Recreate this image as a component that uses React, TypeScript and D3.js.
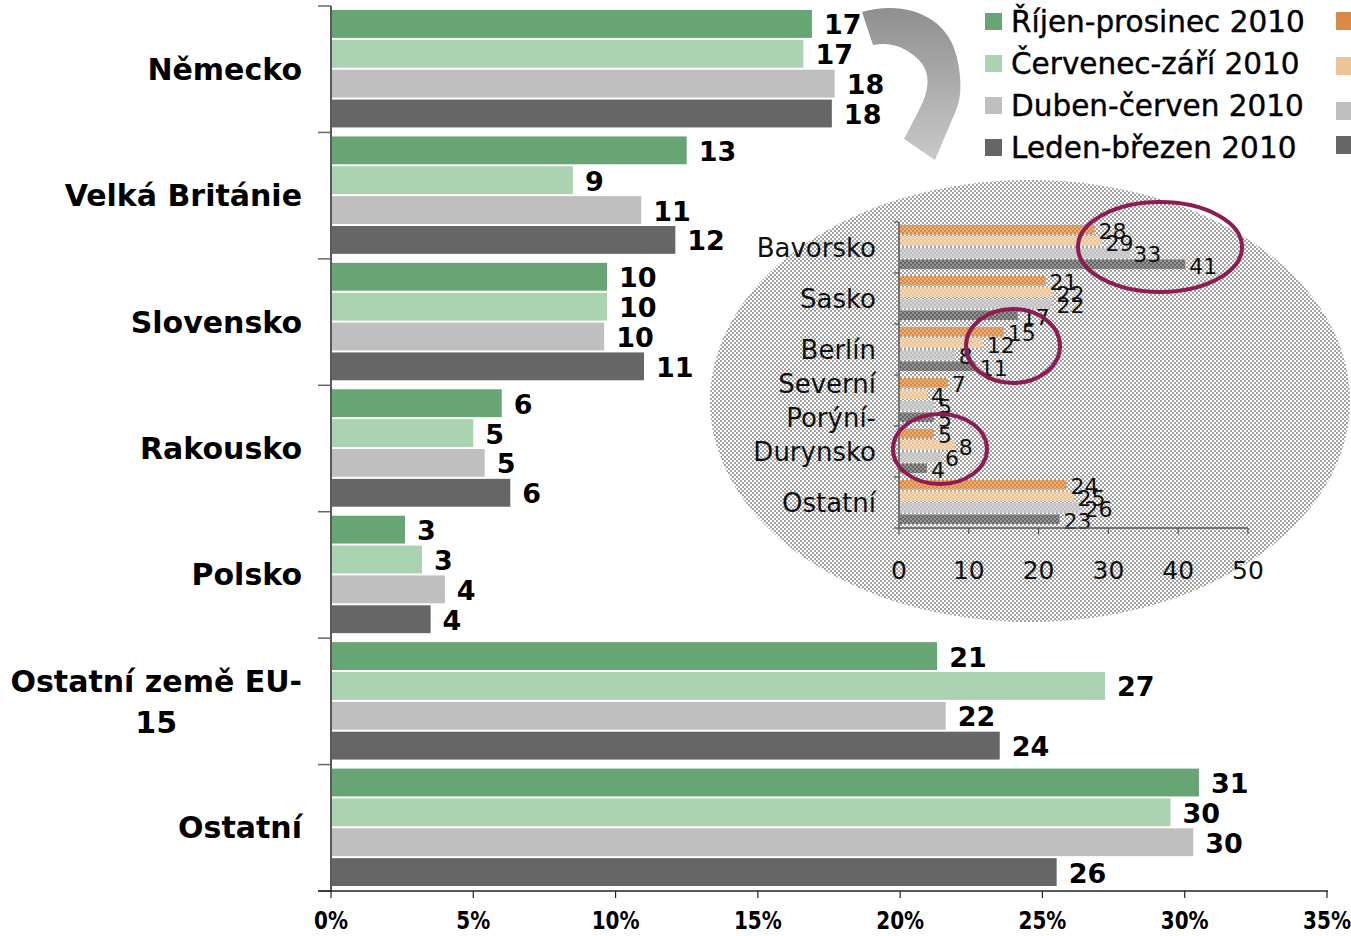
import React, { useEffect, useRef } from "react";
import * as d3 from "d3";

// main chart data (share in %)
const categories = ["Německo", "Velká Británie", "Slovensko", "Rakousko", "Polsko", "Ostatní země EU-15", "Ostatní"];
const categoryLines = [["Německo"], ["Velká Británie"], ["Slovensko"], ["Rakousko"], ["Polsko"], ["Ostatní země EU-", "15"], ["Ostatní"]];
const seriesNames = ["Říjen-prosinec 2010", "Červenec-září 2010", "Duben-červen 2010", "Leden-březen 2010"];
const octDec = [16.9, 12.5, 9.7, 6.0, 2.6, 21.3, 30.5];
const julSep = [16.6, 8.5, 9.7, 5.0, 3.2, 27.2, 29.5];
const aprJun = [17.7, 10.9, 9.6, 5.4, 4.0, 21.6, 30.3];
const janMar = [17.6, 12.1, 11.0, 6.3, 3.5, 23.5, 25.5];
const xTicks = [0, 5, 10, 15, 20, 25, 30, 35];

// inset (German regions)
const insetCategories = ["Bavorsko", "Sasko", "Berlín", "Severní Porýní-", "Durynsko", "Ostatní"];
const insetLines = [["Bavorsko"], ["Sasko"], ["Berlín"], ["Severní", "Porýní-"], ["Durynsko"], ["Ostatní"]];
const insetOctDec = [28, 21, 15, 7, 5, 24];
const insetJulSep = [29, 22, 12, 4, 8, 25];
const insetAprJun = [33, 22, 8, 5, 6, 26];
const insetJanMar = [41, 17, 11, 5, 4, 23];
const insetTicks = [0, 10, 20, 30, 40, 50];

const mainColors = ["#67a575", "#abd2b1", "#bfbfbf", "#666666"];
const insetColors = ["#d98b45", "#ecc597", "#bfbfbf", "#666666"];

export default function App() {
  const ref = useRef<SVGSVGElement>(null);

  useEffect(() => {
    const svg = d3.select(ref.current);
    svg.selectAll("*").remove();

    const defs = svg.append("defs");
    const chk = defs.append("pattern").attr("id", "chk")
      .attr("width", 4).attr("height", 4).attr("patternUnits", "userSpaceOnUse");
    chk.append("rect").attr("width", 4).attr("height", 4).attr("fill", "#fff");
    chk.append("rect").attr("width", 2).attr("height", 2).attr("fill", "#a3a3a3");
    chk.append("rect").attr("x", 2).attr("y", 2).attr("width", 2).attr("height", 2).attr("fill", "#a3a3a3");
    const wchk = defs.append("pattern").attr("id", "wchk")
      .attr("width", 4).attr("height", 4).attr("patternUnits", "userSpaceOnUse");
    wchk.append("rect").attr("width", 2).attr("height", 2).attr("fill", "#fff");
    wchk.append("rect").attr("x", 2).attr("y", 2).attr("width", 2).attr("height", 2).attr("fill", "#fff");
    const grad = defs.append("linearGradient").attr("id", "arrowGrad")
      .attr("x1", 0).attr("y1", 0).attr("x2", 0).attr("y2", 1);
    grad.append("stop").attr("offset", "0%").attr("stop-color", "#8f8f8f");
    grad.append("stop").attr("offset", "100%").attr("stop-color", "#c9c9c9");

    // ---------- main chart ----------
    const mainData = [octDec, julSep, aprJun, janMar];
    const x = d3.scaleLinear().domain([0, 35]).range([331, 1327]);
    const y = d3.scaleBand().domain(categories).range([6, 891]);
    const inner = d3.scaleBand().domain(seriesNames).range([4, y.bandwidth() - 3]);

    const g = svg.append("g");

    seriesNames.forEach((s, si) => {
      g.selectAll(null)
        .data(categories)
        .join("rect")
        .attr("x", x(0) + 1)
        .attr("y", (d) => y(d)! + inner(s)!)
        .attr("width", (d, i) => x(mainData[si][i]) - x(0) - 1)
        .attr("height", inner.bandwidth() - 2)
        .attr("fill", mainColors[si]);

      g.selectAll(null)
        .data(categories)
        .join("text")
        .attr("x", (d, i) => x(mainData[si][i]) + 12)
        .attr("y", (d) => y(d)! + inner(s)! + inner.bandwidth() / 2)
        .attr("dominant-baseline", "central")
        .attr("font-family", "DejaVu Sans")
        .attr("font-weight", "bold")
        .attr("font-size", 27)
        .attr("fill", "#000")
        .text((d, i) => Math.round(mainData[si][i]));
    });

    // y axis
    g.append("line").attr("x1", 331).attr("x2", 331).attr("y1", 6).attr("y2", 891)
      .attr("stroke", "#222").attr("stroke-width", 1.5);
    const bounds = categories.map((c) => y(c)!).concat([891]);
    g.selectAll(null).data(bounds).join("line")
      .attr("x1", 318).attr("x2", 331).attr("y1", (d) => d).attr("y2", (d) => d)
      .attr("stroke", "#666").attr("stroke-width", 1.5);

    // x axis
    g.append("line").attr("x1", 318).attr("x2", 1328).attr("y1", 891).attr("y2", 891)
      .attr("stroke", "#222").attr("stroke-width", 1.5);
    g.selectAll(null).data(xTicks).join("line")
      .attr("x1", (d) => x(d)).attr("x2", (d) => x(d)).attr("y1", 891).attr("y2", 898)
      .attr("stroke", "#222").attr("stroke-width", 1.2);
    g.selectAll(null).data(xTicks).join("text")
      .attr("transform", (d) => `translate(${x(d)},920) scale(0.8,1)`)
      .attr("text-anchor", "middle")
      .attr("dominant-baseline", "central")
      .attr("font-family", "DejaVu Sans")
      .attr("font-weight", "bold")
      .attr("font-size", 25)
      .text((d) => `${d}%`);

    // category labels
    const lineH = 41;
    categoryLines.forEach((lines, ci) => {
      const cy = y(categories[ci])! + y.bandwidth() / 2;
      const t = g.append("text")
        .attr("font-family", "DejaVu Sans")
        .attr("font-weight", "bold")
        .attr("font-size", 30)
        .attr("fill", "#000")
        .attr("dominant-baseline", "central");
      if (lines.length === 1) {
        t.attr("x", 302).attr("y", cy).attr("text-anchor", "end").text(lines[0]);
      } else {
        lines.forEach((l, li) => {
          t.append("tspan").attr("y", cy + (li - (lines.length - 1) / 2) * lineH).text(l);
        });
        const spans = t.selectAll<SVGTSpanElement, unknown>("tspan").nodes();
        const w = d3.max(spans, (n) => n.getComputedTextLength()) ?? 0;
        t.attr("text-anchor", "middle");
        t.selectAll("tspan").attr("x", 302 - w / 2);
      }
    });

    // ---------- arrow ----------
    svg.append("path")
      .attr("d", "M862,12 C902,0 948,14 957,58 C963,84 960,100 957,108 L935,160 L904,139 L918,112 C929,92 932,74 919,60 C904,46 890,42 873,45 Z")
      .attr("fill", "url(#arrowGrad)");

    // ---------- legend ----------
    const legendRows = [21, 63, 105, 147];
    const leg = svg.append("g");
    seriesNames.forEach((s, i) => {
      leg.append("rect").attr("x", 985).attr("y", legendRows[i] - 8).attr("width", 17).attr("height", 17)
        .attr("fill", mainColors[i]);
      leg.append("text").attr("x", 1011).attr("y", legendRows[i] + 1)
        .attr("dominant-baseline", "central")
        .attr("font-family", "DejaVu Sans").attr("font-size", 29.5).attr("fill", "#000")
        .attr("stroke", "#000").attr("stroke-width", 0.4)
        .text(s);
    });
    const rightRows = [21, 66, 111, 145];
    insetColors.forEach((c, i) => {
      leg.append("rect").attr("x", 1336).attr("y", rightRows[i] - 9).attr("width", 18).attr("height", 18)
        .attr("fill", c);
    });

    // ---------- inset ----------
    const ins = svg.append("g");
    ins.append("ellipse").attr("cx", 1030).attr("cy", 401).attr("rx", 320).attr("ry", 221)
      .attr("fill", "url(#chk)");

    const insetData = [insetOctDec, insetJulSep, insetAprJun, insetJanMar];
    const ix = d3.scaleLinear().domain([0, 50]).range([899, 1248]);
    const iy = d3.scaleBand().domain(insetCategories).range([222, 528]);
    const iin = d3.scaleBand().domain(seriesNames).range([3, iy.bandwidth() - 2]);

    seriesNames.forEach((s, si) => {
      ins.selectAll(null).data(insetCategories).join("rect")
        .attr("x", ix(0) + 1)
        .attr("y", (d) => iy(d)! + iin(s)!)
        .attr("width", (d, i) => ix(insetData[si][i]) - ix(0) - 1)
        .attr("height", iin.bandwidth() - 2)
        .attr("fill", insetColors[si]);
      ins.selectAll(null).data(insetCategories).join("rect")
        .attr("x", ix(0) + 1)
        .attr("y", (d) => iy(d)! + iin(s)!)
        .attr("width", (d, i) => ix(insetData[si][i]) - ix(0) - 1)
        .attr("height", iin.bandwidth() - 2)
        .attr("fill", "url(#wchk)")
        .attr("opacity", 0.3);
    });
    seriesNames.forEach((s, si) => {
      ins.selectAll(null).data(insetCategories).join("text")
        .attr("x", (d, i) => ix(insetData[si][i]) + 4)
        .attr("y", (d) => iy(d)! + iin(s)! + iin.bandwidth() / 2 + 1)
        .attr("dominant-baseline", "central")
        .attr("font-family", "DejaVu Sans")
        .attr("font-size", 22)
        .attr("fill", "#111")
        .text((d, i) => insetData[si][i]);
    });

    // inset axes
    ins.append("line").attr("x1", 899).attr("x2", 899).attr("y1", 222).attr("y2", 528)
      .attr("stroke", "#555").attr("stroke-width", 1.5);
    const ib = insetCategories.map((c) => iy(c)!).concat([528]);
    ins.selectAll(null).data(ib).join("line")
      .attr("x1", 894).attr("x2", 899).attr("y1", (d) => d).attr("y2", (d) => d)
      .attr("stroke", "#555").attr("stroke-width", 1.2);
    ins.append("line").attr("x1", 899).attr("x2", 1248).attr("y1", 528).attr("y2", 528)
      .attr("stroke", "#555").attr("stroke-width", 1.5);
    ins.selectAll(null).data(insetTicks).join("line")
      .attr("x1", (d) => ix(d)).attr("x2", (d) => ix(d)).attr("y1", 528).attr("y2", 534)
      .attr("stroke", "#555").attr("stroke-width", 1.2);
    ins.selectAll(null).data(insetTicks).join("text")
      .attr("x", (d) => ix(d)).attr("y", 570)
      .attr("text-anchor", "middle").attr("dominant-baseline", "central")
      .attr("font-family", "DejaVu Sans").attr("font-size", 25).attr("fill", "#111")
      .text((d) => d);

    insetLines.forEach((lines, ci) => {
      const cy = iy(insetCategories[ci])! + iy.bandwidth() / 2;
      lines.forEach((l, li) => {
        ins.append("text")
          .attr("x", 876)
          .attr("y", cy + (li - (lines.length - 1) / 2) * 34)
          .attr("text-anchor", "end").attr("dominant-baseline", "central")
          .attr("font-family", "DejaVu Sans").attr("font-size", 26).attr("fill", "#111")
          .text(l);
      });
    });

    // highlight ellipses
    const marks = [
      { cx: 1160, cy: 247, rx: 82, ry: 45 },
      { cx: 1013, cy: 346, rx: 47, ry: 37 },
      { cx: 940, cy: 449, rx: 47, ry: 35 },
    ];
    ins.selectAll(null).data(marks).join("ellipse")
      .attr("cx", (d) => d.cx).attr("cy", (d) => d.cy)
      .attr("rx", (d) => d.rx).attr("ry", (d) => d.ry)
      .attr("fill", "none").attr("stroke", "#8e1b52").attr("stroke-width", 4);
  }, []);

  return (
    <svg
      ref={ref}
      width={1351}
      height={936}
      style={{ position: "absolute", left: 0, top: 0, background: "#fff" }}
    />
  );
}
